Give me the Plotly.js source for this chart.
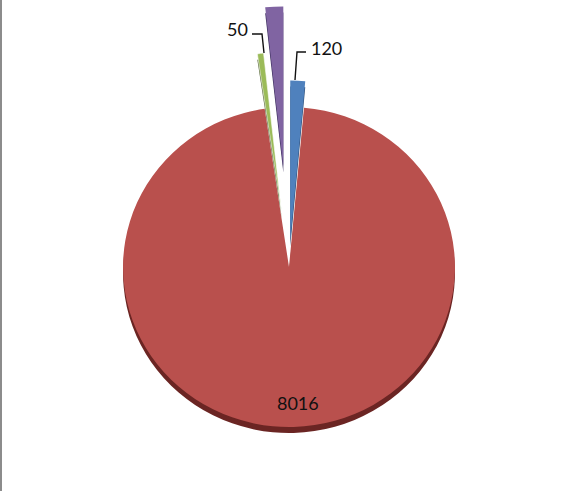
<!DOCTYPE html>
<html>
<head>
<meta charset="utf-8">
<script src="https://cdn.plot.ly/plotly-3.0.1.min.js"></script>
<style>
html,body{margin:0;padding:0;width:576px;height:491px;overflow:hidden;background:#fff}
#frame{position:absolute;left:0;top:0;width:2px;height:491px;background:#8c8c8c;z-index:5}
#chart{position:absolute;left:0;top:0;width:578px;height:554px;transform-origin:0 0;transform:scaleY(0.964)}
</style>
</head>
<body>
<div id="frame"></div>
<div id="chart"></div>
<script>
const categories = ["A", "B", "C", "D"];
const seriesValues = [120, 8016, 50, 145];
const explode = [0.166, 0, 0.346, 0.63];
const faceColors = ["#4f81bd", "#b9504d", "#9bbb59", "#8064a2"];
const rimColors = ["#2f4f78", "#6b2523", "#4c5f2a", "#3f3060"];
const faceLineWidths = [0, 0, 0.6, 0];
const shownLabels = [0, 1, 2];
const labelX = {0: 326, 1: 298, 2: 237};
const labelY = {0: 48, 1: 403, 2: 29};

const W = 578, H = 554, S = 0.964;
const px = x => x / W;
const py = y => 1 - (y / S) / H;

function pie(colors, domainY, lineWidths) {
  return {
    type: "pie", labels: categories, values: seriesValues, pull: explode,
    sort: false, direction: "clockwise", rotation: 0, textinfo: "none",
    hoverinfo: "skip", showlegend: false,
    marker: {colors: colors, line: {color: "#fff", width: lineWidths}},
    domain: {x: [0.032, 0.968], y: domainY}
  };
}
const traces = [
  pie(rimColors, [0.0003, 0.9773], 0),
  pie(faceColors, [0.0115, 0.9885], faceLineWidths)
];
const annotations = shownLabels.map(i => ({
  xref: "paper", yref: "paper", x: px(labelX[i]), y: py(labelY[i]),
  text: String(seriesValues[i]), showarrow: false,
  xanchor: "center", yanchor: "middle",
  font: {family: "Lato, Open Sans, sans-serif", size: 18, color: "#111"}
}));
const leader = pts => ({
  type: "path", xref: "paper", yref: "paper",
  path: "M" + pts.map(p => px(p[0]) + "," + py(p[1])).join("L"),
  line: {color: "#111", width: 1.4}
});
const layout = {
  width: W, height: H, margin: {l: 0, r: 0, t: 0, b: 0},
  paper_bgcolor: "#fff", annotations: annotations,
  shapes: [
    leader([[306, 52], [297, 52], [295, 80]]),
    leader([[252, 34], [262, 34], [264, 53]])
  ]
};
Plotly.newPlot("chart", traces, layout, {displayModeBar: false, staticPlot: true});
</script>
</body>
</html>
